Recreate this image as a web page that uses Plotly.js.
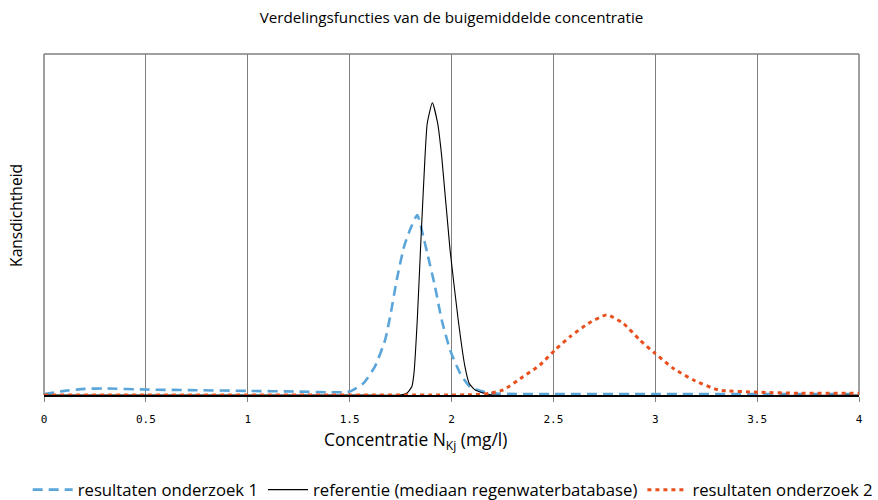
<!DOCTYPE html>
<html>
<head>
<meta charset="utf-8">
<script src="https://cdn.plot.ly/plotly-3.0.1.min.js"></script>
<style>html,body{margin:0;padding:0;background:#fff;}#chart{width:878px;height:500px;}</style>
</head>
<body>
<div id="chart"></div>
<script>
// Series 1: resultaten onderzoek 1
const x1 = [0, 0.1, 0.2, 0.3, 0.5, 0.75, 1.0, 1.25, 1.4, 1.5, 1.567, 1.624, 1.674, 1.702, 1.731, 1.767, 1.80, 1.832, 1.862, 1.881, 1.919, 1.952, 1.993, 2.042, 2.091, 2.156, 2.22, 2.5, 3.0, 3.5, 4.0];
const y1 = [0.03, 0.12, 0.18, 0.19, 0.16, 0.14, 0.12, 0.10, 0.08, 0.10, 0.34, 0.83, 1.61, 2.40, 3.37, 4.35, 4.9, 5.28, 4.64, 4.16, 3.18, 2.20, 1.32, 0.64, 0.24, 0.10, 0.04, 0.03, 0.03, 0.03, 0.03];
// Series 2: referentie (mediaan regenwaterbatabase)
const x2 = [0, 1.5, 1.747, 1.780, 1.805, 1.816, 1.832, 1.850, 1.870, 1.881, 1.906, 1.932, 1.952, 1.993, 2.033, 2.066, 2.087, 2.115, 2.155, 2.2, 4.0];
const y2 = [0, 0, 0, 0.05, 0.24, 0.65, 2.20, 4.55, 6.99, 7.97, 8.57, 7.97, 6.99, 4.25, 2.20, 0.83, 0.34, 0.15, 0.06, 0, 0];
// Series 3: resultaten onderzoek 2
const x3 = [0, 0.5, 1.0, 1.5, 2.0, 2.1, 2.189, 2.254, 2.352, 2.434, 2.508, 2.582, 2.672, 2.762, 2.843, 2.925, 2.999, 3.089, 3.187, 3.309, 3.514, 3.71, 4.0];
const y3 = [0, 0, 0, 0, 0, 0.01, 0.05, 0.15, 0.54, 0.88, 1.32, 1.71, 2.10, 2.35, 2.10, 1.61, 1.22, 0.78, 0.44, 0.15, 0.08, 0.05, 0.05];
const names = ['resultaten onderzoek 1', 'referentie (mediaan regenwaterbatabase)', 'resultaten onderzoek 2'];
const xTicks = [0, 0.5, 1, 1.5, 2, 2.5, 3, 3.5, 4];
const xTickText = ['0', '0.5', '1', '1.5', '2', '2.5', '3', '3.5', '4'];
const chartTitle = 'Verdelingsfuncties van de buigemiddelde concentratie';
const xTitle = 'Concentratie N<sub>Kj</sub> (mg/l)';
const yTitle = 'Kansdichtheid';

const traces = [
  {x: x1, y: y1, name: names[0], mode: 'lines', line: {color: '#5AA5DA', width: 2.6, dash: '10px,6px', shape: 'spline', smoothing: 0.5}},
  {x: x2, y: y2, name: names[1], mode: 'lines', line: {color: '#000000', width: 1.1, shape: 'spline', smoothing: 0.5}},
  {x: x3, y: y3, name: names[2], mode: 'lines', line: {color: '#E8501E', width: 3, dash: '4px,4px', shape: 'spline', smoothing: 0.5}}
];

const gridGray = '#7f7f7f';
const layout = {
  width: 878, height: 500,
  margin: {l: 44, r: 19, t: 54, b: 105, autoexpand: false},
  paper_bgcolor: '#fff', plot_bgcolor: '#fff',
  font: {family: 'Open Sans, sans-serif', color: '#000'},
  title: {text: chartTitle, font: {size: 15.2, color: '#000'}, xref: 'paper', x: 0.5, xanchor: 'center', yref: 'container', y: 0.964, yanchor: 'middle'},
  xaxis: {
    range: [0, 4], tickvals: xTicks, ticktext: xTickText,
    showgrid: true, gridcolor: gridGray, gridwidth: 1,
    showline: true, linecolor: '#000', linewidth: 1.5,
    ticks: 'outside', ticklen: 5, tickcolor: gridGray, tickwidth: 1,
    ticklabelstandoff: 8,
    tickfont: {family: 'DejaVu Sans Mono, monospace', size: 11, color: '#000'},
    zeroline: false, automargin: false
  },
  yaxis: {
    range: [0, 10], showticklabels: false,
    showgrid: false,
    showline: false, zeroline: false, ticks: '', automargin: false
  },
  annotations: [
    {text: xTitle, xref: 'paper', yref: 'paper', x: 0.456, y: -0.132, xanchor: 'center', yanchor: 'middle', showarrow: false, font: {size: 17.4, color: '#000'}},
    {text: yTitle, xref: 'paper', yref: 'paper', x: -0.0344, y: 0.528, xanchor: 'center', yanchor: 'middle', textangle: -90, showarrow: false, font: {size: 15.6, color: '#000'}}
  ],
  shapes: [
    {type: 'line', xref: 'paper', yref: 'paper', x0: 0, x1: 1, y0: 1, y1: 1, line: {color: gridGray, width: 1.5}, layer: 'below'},
    {type: 'line', xref: 'paper', yref: 'paper', x0: 0, x1: 0, y0: 0, y1: 1, line: {color: gridGray, width: 1.5}, layer: 'below'},
    {type: 'line', xref: 'paper', yref: 'paper', x0: 1, x1: 1, y0: 0, y1: 1, line: {color: gridGray, width: 1.5}, layer: 'below'}
  ],
  showlegend: true,
  legend: {orientation: 'h', x: -0.02, xanchor: 'left', y: -0.278, yanchor: 'middle', font: {size: 16.7, color: '#000'}, itemwidth: 40, tracegroupgap: 0, bgcolor: 'rgba(0,0,0,0)'}
};

Plotly.newPlot('chart', traces, layout, {staticPlot: true, displayModeBar: false});
</script>
</body>
</html>
